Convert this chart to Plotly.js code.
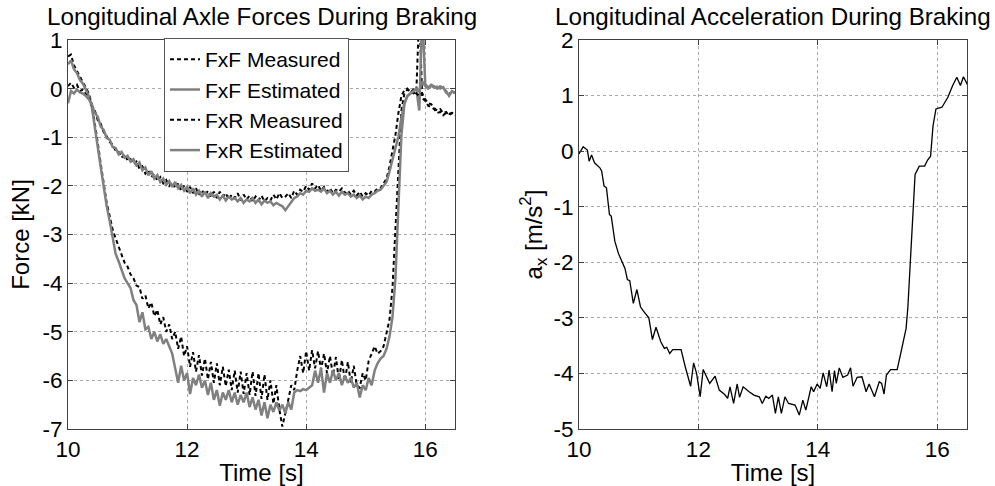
<!DOCTYPE html>
<html>
<head>
<meta charset="utf-8">
<script src="https://cdn.plot.ly/plotly-3.0.1.min.js"></script>
<style>html,body{margin:0;padding:0;background:#fff;}#chart{width:995px;height:486px;}</style>
</head>
<body>
<div id="chart"></div>
<script>
// Sample times for the axle-force traces [s]
const timeF = [
 10.00,10.05,10.10,10.15,10.20,10.25,10.30,10.35,10.40,10.45,
 10.50,10.55,10.60,10.65,10.70,10.75,10.80,10.85,10.90,10.95,
 11.00,11.05,11.10,11.15,11.20,11.25,11.30,11.35,11.40,11.45,
 11.50,11.55,11.60,11.65,11.70,11.75,11.80,11.85,11.90,11.95,
 12.00,12.05,12.10,12.15,12.20,12.25,12.30,12.35,12.40,12.45,
 12.50,12.55,12.60,12.65,12.70,12.75,12.80,12.85,12.90,12.95,
 13.00,13.05,13.10,13.15,13.20,13.25,13.30,13.35,13.40,13.45,
 13.50,13.55,13.60,13.65,13.70,13.75,13.80,13.85,13.90,13.95,
 14.00,14.05,14.10,14.15,14.20,14.25,14.30,14.35,14.40,14.45,
 14.50,14.55,14.60,14.65,14.70,14.75,14.80,14.85,14.90,14.95,
 15.00,15.05,15.10,15.15,15.20,15.25,15.30,15.35,15.40,15.45,
 15.50,15.55,15.60,15.65,15.70,15.75,15.80,15.85,15.90,15.95,
 16.00,16.05,16.10,16.15,16.20,16.25,16.30,16.35,16.40,16.45,
 16.50];

// Front axle force, measured [kN]
const fxfMeasured = [
 0.66,0.70,0.48,0.36,0.24,0.14,0.00,-0.10,-0.32,-0.68,
 -1.12,-1.55,-2.00,-2.35,-2.62,-2.90,-3.08,-3.25,-3.38,-3.58,
 -3.66,-3.82,-3.90,-4.05,-4.08,-4.32,-4.25,-4.52,-4.40,-4.68,
 -4.55,-4.85,-4.70,-5.00,-4.85,-5.15,-5.00,-5.35,-5.10,-5.50,
 -5.30,-5.72,-5.42,-5.82,-5.48,-5.90,-5.55,-5.98,-5.62,-6.05,
 -5.65,-6.10,-5.72,-6.12,-5.78,-6.20,-5.80,-6.25,-5.82,-6.28,
 -5.85,-6.30,-5.82,-6.32,-5.85,-6.38,-5.88,-6.40,-6.00,-6.48,
 -6.10,-6.60,-6.95,-6.70,-6.40,-6.10,-6.20,-5.80,-5.50,-5.85,
 -5.40,-5.80,-5.38,-5.75,-5.40,-5.78,-5.45,-5.85,-5.50,-5.90,
 -5.52,-6.00,-5.58,-6.02,-5.62,-6.05,-5.70,-6.10,-6.15,-5.85,
 -6.00,-5.60,-5.45,-5.30,-5.45,-5.40,-5.30,-5.05,-4.75,-4.10,
 -2.90,-1.50,-0.45,-0.10,-0.02,-0.05,-0.10,-0.08,1.60,-0.20,
 -0.25,-0.35,-0.38,-0.42,-0.50,-0.48,-0.55,-0.50,-0.52,-0.50,
 -0.55];

// Front axle force, estimated [kN]
const fxfEstimated = [
 0.50,0.58,0.40,0.32,0.18,0.10,-0.02,-0.15,-0.38,-0.75,
 -1.20,-1.62,-2.05,-2.42,-2.72,-3.05,-3.40,-3.55,-3.75,-3.90,
 -4.00,-4.10,-4.35,-4.45,-4.80,-4.60,-4.95,-4.90,-5.15,-5.00,
 -5.20,-5.05,-5.25,-5.15,-5.30,-5.45,-5.75,-6.05,-5.70,-6.00,
 -5.85,-6.28,-5.95,-6.10,-5.88,-6.15,-6.00,-6.30,-6.05,-6.40,
 -6.20,-6.52,-6.25,-6.40,-6.20,-6.45,-6.25,-6.50,-6.30,-6.45,
 -6.25,-6.55,-6.35,-6.60,-6.40,-6.72,-6.45,-6.78,-6.50,-6.65,
 -6.45,-6.62,-6.50,-6.68,-6.45,-6.60,-6.25,-6.20,-6.22,-6.18,
 -6.20,-6.15,-6.10,-5.80,-6.05,-5.75,-6.25,-5.85,-6.05,-5.80,
 -6.00,-5.85,-6.10,-5.90,-6.05,-5.95,-6.15,-6.05,-6.35,-6.10,
 -6.20,-5.95,-6.10,-5.80,-5.65,-5.55,-5.50,-5.35,-5.10,-4.70,
 -3.90,-2.40,-0.95,-0.32,-0.15,-0.10,-0.05,0.00,-0.45,1.60,
 0.10,0.02,0.08,0.05,0.00,0.05,0.02,-0.05,-0.15,-0.05,
 -0.10];

// Rear axle force, measured [kN]
const fxrMeasured = [
 0.05,0.12,0.02,0.08,-0.05,-0.02,-0.12,-0.18,-0.35,-0.45,
 -0.65,-0.72,-0.90,-0.98,-1.10,-1.15,-1.28,-1.30,-1.42,-1.35,
 -1.48,-1.45,-1.55,-1.50,-1.65,-1.60,-1.75,-1.68,-1.82,-1.75,
 -1.90,-1.82,-1.95,-1.88,-2.00,-1.92,-2.05,-1.95,-2.10,-2.00,
 -2.12,-2.02,-2.15,-2.05,-2.18,-2.08,-2.20,-2.10,-2.22,-2.12,
 -2.25,-2.12,-2.22,-2.15,-2.28,-2.18,-2.25,-2.15,-2.30,-2.18,
 -2.28,-2.20,-2.32,-2.22,-2.30,-2.20,-2.32,-2.25,-2.30,-2.18,
 -2.28,-2.15,-2.25,-2.22,-2.15,-2.25,-2.10,-2.18,-2.08,-2.12,
 -2.00,-2.08,-1.95,-2.05,-1.98,-2.10,-2.02,-2.12,-2.05,-2.15,
 -2.08,-2.12,-2.05,-2.15,-2.10,-2.18,-2.10,-2.20,-2.12,-2.22,
 -2.15,-2.20,-2.10,-2.12,-2.05,-2.05,-1.95,-1.85,-1.60,-1.30,
 -0.95,-0.50,-0.15,-0.03,0.00,-0.08,-0.02,-0.10,-0.15,-0.10,
 -0.22,-0.30,-0.32,-0.40,-0.45,-0.42,-0.50,-0.48,-0.55,-0.50,
 -0.52];

// Rear axle force, estimated [kN]
const fxrEstimated = [
 -0.30,-0.05,-0.10,-0.02,-0.08,-0.10,-0.15,-0.22,-0.32,-0.50,
 -0.58,-0.78,-0.85,-1.02,-1.05,-1.20,-1.22,-1.35,-1.30,-1.42,
 -1.38,-1.50,-1.45,-1.58,-1.52,-1.68,-1.62,-1.78,-1.70,-1.85,
 -1.78,-1.92,-1.85,-1.98,-1.90,-2.02,-1.92,-2.05,-1.98,-2.10,
 -2.02,-2.15,-2.05,-2.18,-2.10,-2.22,-2.12,-2.25,-2.15,-2.22,
 -2.18,-2.28,-2.20,-2.30,-2.22,-2.28,-2.25,-2.32,-2.25,-2.35,
 -2.28,-2.32,-2.25,-2.35,-2.28,-2.38,-2.30,-2.35,-2.32,-2.40,
 -2.35,-2.38,-2.42,-2.50,-2.42,-2.35,-2.25,-2.22,-2.15,-2.18,
 -2.10,-2.12,-2.05,-2.10,-2.08,-2.12,-2.05,-2.15,-2.10,-2.18,
 -2.12,-2.20,-2.12,-2.18,-2.15,-2.22,-2.18,-2.25,-2.20,-2.28,
 -2.22,-2.25,-2.18,-2.15,-2.10,-2.08,-2.00,-1.92,-1.70,-1.45,
 -1.20,-0.98,-0.60,-0.30,-0.15,-0.10,-0.05,0.00,-0.05,0.15,
 0.05,0.00,0.06,0.02,0.04,0.00,0.03,-0.08,-0.12,-0.06,
 -0.08];

// Longitudinal acceleration trace
const timeAx = [
 10.0,10.07,10.14,10.17,10.21,10.26,10.35,10.38,10.42,10.46,
 10.51,10.54,10.6,10.66,10.77,10.81,10.85,10.91,10.97,11.03,
 11.08,11.17,11.23,11.29,11.37,11.43,11.47,11.52,11.57,11.71,
 11.78,11.87,11.92,11.97,12.03,12.08,12.19,12.28,12.35,12.44,
 12.49,12.53,12.59,12.65,12.69,12.75,12.85,12.93,13.02,13.07,
 13.13,13.18,13.24,13.29,13.34,13.39,13.45,13.51,13.62,13.69,
 13.75,13.8,13.89,13.93,13.99,14.04,14.09,14.15,14.19,14.24,
 14.28,14.31,14.36,14.42,14.5,14.55,14.59,14.66,14.74,14.81,
 14.86,14.95,15.03,15.07,15.11,15.15,15.22,15.33,15.39,15.44,
 15.48,15.51,15.54,15.55,15.59,15.63,15.7,15.79,15.84,15.89,
 15.93,15.98,16.08,16.18,16.26,16.33,16.39,16.44,16.51];
const ax = [
 -0.05,0.08,0.02,-0.18,-0.07,-0.21,-0.30,-0.36,-0.63,-0.66,
 -1.14,-1.17,-1.62,-1.84,-2.11,-2.31,-2.33,-2.74,-2.49,-2.80,
 -2.88,-3.0,-3.39,-3.17,-3.43,-3.55,-3.53,-3.64,-3.57,-3.57,
 -3.88,-4.23,-3.81,-4.0,-4.42,-3.93,-4.18,-4.05,-4.3,-4.38,
 -4.45,-4.24,-4.54,-4.19,-4.43,-4.24,-4.33,-4.39,-4.42,-4.54,
 -4.41,-4.45,-4.39,-4.72,-4.42,-4.72,-4.42,-4.54,-4.57,-4.75,
 -4.48,-4.66,-4.24,-4.33,-4.19,-4.27,-3.99,-4.24,-3.94,-4.33,
 -3.95,-4.18,-3.9,-4.07,-4.03,-3.9,-4.23,-4.07,-4.06,-4.33,
 -4.19,-4.42,-4.15,-4.18,-4.37,-4.03,-3.93,-3.93,-3.64,-3.4,
 -3.19,-2.8,-2.2,-1.78,-0.99,-0.42,-0.27,-0.27,-0.16,-0.09,
 0.45,0.76,0.79,0.97,1.18,1.33,1.18,1.34,1.19];

// Tick values and labels (hyphen minus, as in the original)
const xTicks = [10,12,14,16];
const yTicksLeft = [-7,-6,-5,-4,-3,-2,-1,0,1];
const yTickTextLeft = ['-7','-6','-5','-4','-3','-2','-1','0','1'];
const yTicksRight = [-5,-4,-3,-2,-1,0,1,2];
const yTickTextRight = ['-5','-4','-3','-2','-1','0','1','2'];

const seriesNames = ['FxF Measured','FxF Estimated','FxR Measured','FxR Estimated'];
const leftTitle = 'Longitudinal Axle Forces During Braking';
const rightTitle = 'Longitudinal Acceleration During Braking';

const FONT = 'Liberation Sans, Arial, Helvetica, sans-serif';
const measLine = {color:'#000000', width:2, dash:'4px,3px'};
const estLine = {color:'#808080', width:2.5};

const traces = [
 {x:timeF, y:fxfMeasured, name:seriesNames[0], mode:'lines', line:measLine, xaxis:'x', yaxis:'y'},
 {x:timeF, y:fxfEstimated, name:seriesNames[1], mode:'lines', line:estLine, xaxis:'x', yaxis:'y'},
 {x:timeF, y:fxrMeasured, name:seriesNames[2], mode:'lines', line:measLine, xaxis:'x', yaxis:'y'},
 {x:timeF, y:fxrEstimated, name:seriesNames[3], mode:'lines', line:estLine, xaxis:'x', yaxis:'y'},
 {x:timeAx, y:ax, name:'a_x', mode:'lines', line:{color:'#000000', width:1.3}, xaxis:'x2', yaxis:'y2', showlegend:false}
];

const axisCommon = {
 showline:true, mirror:'ticks', linecolor:'#404040', linewidth:1,
 ticks:'inside', ticklen:5, tickcolor:'#404040',
 showgrid:true, gridcolor:'#a8a8a8', griddash:'dot', gridwidth:1,
 zeroline:false, automargin:false,
 tickfont:{family:FONT, size:22.5, color:'#000'},
 fixedrange:true
};

const layout = {
 width:995, height:486,
 margin:{l:0, r:0, t:40, b:57},
 paper_bgcolor:'#fff', plot_bgcolor:'#fff',
 font:{family:FONT, size:24, color:'#000'},
 showlegend:true,
 legend:{x:164/995, xanchor:'left', y:1.005, yanchor:'top', bgcolor:'#fff',
   bordercolor:'#555', borderwidth:1, font:{family:FONT, size:21, color:'#000'},
   tracegroupgap:0, itemwidth:30},
 xaxis:Object.assign({}, axisCommon, {domain:[68/995, 455/995], range:[10,16.5], tickvals:xTicks, anchor:'y',
   title:{text:'Time [s]', font:{family:FONT, size:24}, standoff:2}}),
 yaxis:Object.assign({}, axisCommon, {domain:[0,1], range:[-7,1], tickvals:yTicksLeft, ticktext:yTickTextLeft, anchor:'x',
   title:{text:'Force [kN]', font:{family:FONT, size:24}, standoff:6}}),
 xaxis2:Object.assign({}, axisCommon, {domain:[579/995, 967/995], range:[10,16.5], tickvals:xTicks, anchor:'y2',
   title:{text:'Time [s]', font:{family:FONT, size:24}, standoff:2}}),
 yaxis2:Object.assign({}, axisCommon, {domain:[0,1], range:[-5,2], tickvals:yTicksRight, ticktext:yTickTextRight, anchor:'x2',
   title:{text:'a<sub>x</sub> [m/s<sup>2</sup>]', font:{family:FONT, size:24}, standoff:4}}),
 annotations:[
  {text:leftTitle, xref:'paper', yref:'paper', x:(68+455)/2/995, y:1, xanchor:'center', yanchor:'bottom', yshift:8, showarrow:false, font:{family:FONT, size:24.2, color:'#000'}},
  {text:rightTitle, xref:'paper', yref:'paper', x:(579+967)/2/995, y:1, xanchor:'center', yanchor:'bottom', yshift:8, showarrow:false, font:{family:FONT, size:24.2, color:'#000'}}
 ]
};

Plotly.newPlot('chart', traces, layout, {displayModeBar:false, staticPlot:true});
</script>
</body>
</html>
